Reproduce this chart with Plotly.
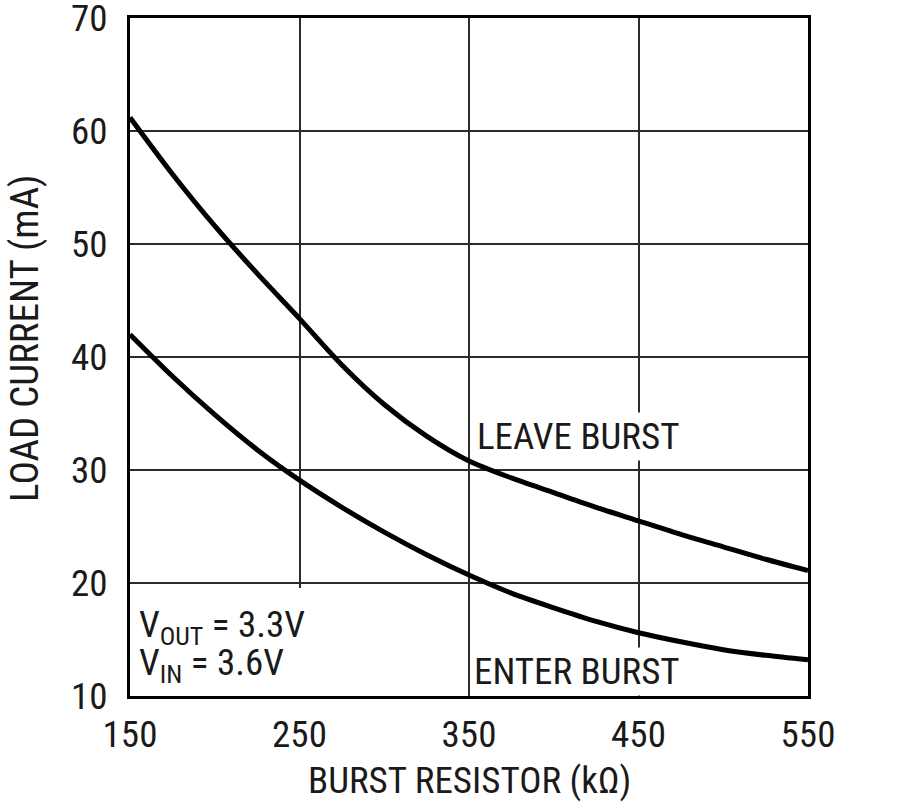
import plotly.graph_objects as go

# burst resistor (kOhm)
resistor_kohm = [150, 175, 200, 225, 250, 275, 300, 325, 350, 375, 400, 425, 450, 475, 500, 525, 550]
# load current (mA)
leave_burst_ma = [61.2, 56.2, 51.6, 47.4, 43.4, 39.3, 35.8, 33.0, 30.8, 29.3, 28.0, 26.7, 25.5, 24.3, 23.2, 22.1, 21.1]
enter_burst_ma = [42.0, 38.3, 34.9, 31.8, 29.1, 26.7, 24.5, 22.5, 20.7, 19.1, 17.8, 16.6, 15.6, 14.8, 14.1, 13.6, 13.2]

x_ticks = [150, 250, 350, 450, 550]
y_ticks = [10, 20, 30, 40, 50, 60, 70]

FONT = "Liberation Sans Narrow, Roboto Condensed, Roboto, Arial"
INK = "#1a1a1a"

fig = go.Figure()
for ys in (leave_burst_ma, enter_burst_ma):
    fig.add_trace(go.Scatter(
        x=resistor_kohm, y=ys, mode="lines",
        line=dict(color="black", width=5, shape="spline", smoothing=0.8),
        showlegend=False, hoverinfo="skip"
    ))

axis_style = dict(
    showgrid=True, gridcolor="#2b2b2b", gridwidth=2,
    showline=True, linecolor="black", linewidth=3, mirror=True,
    ticks="", zeroline=False, automargin=False, ticklabeloverflow="allow",
    tickfont=dict(family=FONT, size=37, color=INK),
)
fig.update_xaxes(range=[150, 550], tickvals=x_ticks, ticklabelstandoff=4, **axis_style)
fig.update_yaxes(range=[10, 70], tickvals=y_ticks, ticklabelstandoff=12, **axis_style)

fig.update_layout(
    width=900, height=808,
    margin=dict(l=130, r=92, t=18, b=112),
    plot_bgcolor="white", paper_bgcolor="white",
    font=dict(family=FONT, color=INK),
)

# white box behind the operating conditions (covers grid, like the datasheet)
fig.add_shape(type="rect", x0=151, x1=263, y0=9.95, y1=19.55, layer="above",
              fillcolor="white", line=dict(width=0))

fig.add_annotation(
    text="BURST RESISTOR (kΩ)", xref="paper", yref="paper", x=0.5, y=-0.124,
    xanchor="center", yanchor="middle", showarrow=False, font=dict(size=37)
)
fig.add_annotation(
    text="LOAD CURRENT (mA)", xref="paper", yref="paper", x=-0.155, y=0.528,
    xanchor="center", yanchor="middle", textangle=-90, showarrow=False, font=dict(size=39)
)
fig.add_annotation(
    text="LEAVE BURST", x=353, y=33.0, xanchor="left", yanchor="middle",
    showarrow=False, bgcolor="white", borderpad=2, font=dict(size=37)
)
fig.add_annotation(
    text="ENTER BURST", x=351, y=12.2, xanchor="left", yanchor="middle",
    showarrow=False, bgcolor="white", borderpad=2, font=dict(size=37)
)
fig.add_annotation(
    text="V<sub>OUT</sub> = 3.3V", x=154, y=16.1, xanchor="left", yanchor="middle",
    showarrow=False, font=dict(size=37)
)
fig.add_annotation(
    text="V<sub>IN</sub> = 3.6V", x=154, y=12.75, xanchor="left", yanchor="middle",
    showarrow=False, font=dict(size=37)
)

# drop the page's default body margin so the figure sits at the window origin
fig.write_html("out.html", config={"displayModeBar": False},
               post_script="document.body.style.margin='0';")
